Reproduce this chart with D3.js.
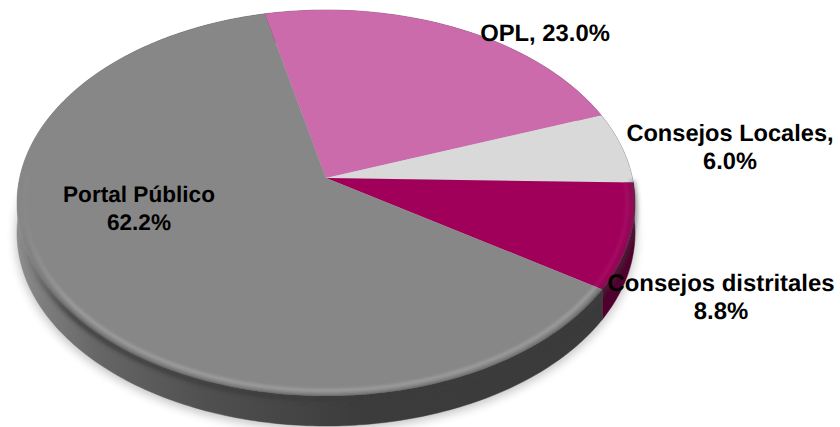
<!DOCTYPE html>
<html>
<head>
<meta charset="utf-8">
<script src="https://cdn.jsdelivr.net/npm/d3@7"></script>
<style>
html, body { margin: 0; padding: 0; background: #fff; }
svg { display: block; }
text { font-family: "Liberation Sans", Arial, sans-serif; font-weight: bold; fill: #000; text-rendering: geometricPrecision; }
</style>
</head>
<body>
<div id="chart"></div>
<script>
// datos, en el orden de la tarta (sentido horario)
var categories = ['OPL', 'Consejos Locales', 'Consejos distritales', 'Portal Público'];
var values = [23.0, 6.0, 8.8, 62.2];
var labelLines = [['OPL, 23.0%'], ['Consejos Locales,', '6.0%'], ['Consejos distritales', '8.8%'], ['Portal Público', '62.2%']];

var faceColors = ['#cb6bac', '#d9d9d9', '#a0005a', '#878787'];
var sideColors = ['#7a4067', '#6e6e6e', '#50002d', 'url(#graySide)'];
var labelAnchors = [[545, 41], [730, 141], [721, 291], [139, 202]];
var labelSizes = [23.8, 23.6, 23.9, 22.6];

var width = 840, height = 427;
var cx = 326, cy = 203, rx = 309, ry = 193;
var apexShift = -0.13; // el vertice queda por encima del centro de la elipse
var startDeg = -13;
var depth = 30;
var lineGap = 28;

var svg = d3.select('#chart').append('svg')
	.attr('width', width)
	.attr('height', height);

var defs = svg.append('defs');
[['blur5', 5], ['blur2', 2], ['blur1', 1.5]].forEach(function (f) {
	defs.append('filter')
		.attr('id', f[0])
		.attr('filterUnits', 'userSpaceOnUse')
		.attr('x', -20).attr('y', -20)
		.attr('width', width + 40).attr('height', height + 60)
		.append('feGaussianBlur')
		.attr('stdDeviation', f[1]);
});
var grad = defs.append('linearGradient')
	.attr('id', 'graySide')
	.attr('gradientUnits', 'userSpaceOnUse')
	.attr('x1', 17).attr('x2', 640).attr('y1', 0).attr('y2', 0);
[[0, '#8e8e8e'], [0.04, '#7e7e7e'], [0.13, '#666666'], [0.3, '#505050'], [0.55, '#3c3c3c'], [1, '#3a3a3a']].forEach(function (s) {
	grad.append('stop').attr('offset', s[0]).attr('stop-color', s[1]);
});
// el bisel se desvanece hacia la izquierda
function fadeGradient(id, color) {
	var g = defs.append('linearGradient')
		.attr('id', id)
		.attr('gradientUnits', 'userSpaceOnUse')
		.attr('x1', 20).attr('x2', 70).attr('y1', 0).attr('y2', 0);
	g.append('stop').attr('offset', 0).attr('stop-color', color).attr('stop-opacity', 0);
	g.append('stop').attr('offset', 1).attr('stop-color', color).attr('stop-opacity', 1);
}
fadeGradient('rimDark', '#3c3c3c');
fadeGradient('rimLight', '#ffffff');

// angulo de la tarta -> punto de la elipse en perspectiva
function project(angle, scale, dy) {
	var u = Math.sin(angle), v = -Math.cos(angle);
	var k = apexShift;
	var w = 1 + k * v;
	var s = scale === undefined ? 1 : scale;
	return [
		cx + rx * s * u * Math.sqrt(1 - k * k) / w,
		cy + ry * (k + (v + k) / w * s - k * s) + (dy || 0)
	];
}

var pie = d3.pie()
	.sort(null)
	.startAngle(startDeg * Math.PI / 180)
	.endAngle((360 + startDeg) * Math.PI / 180);
var slices = pie(values);

function arcPoints(a0, a1, scale, dy) {
	var n = Math.max(2, Math.ceil((a1 - a0) * 60));
	return d3.range(n + 1).map(function (i) {
		return project(a0 + (a1 - a0) * i / n, scale, dy);
	});
}
var line = d3.line();
var apex = [cx, cy + ry * apexShift];

// sombra
svg.append('path')
	.attr('d', line(arcPoints(0, 2 * Math.PI, 1.005, depth + 3)) + 'Z')
	.attr('fill', '#000')
	.attr('opacity', 0.22)
	.attr('filter', 'url(#blur5)');

// canto
svg.append('g').selectAll('path')
	.data(slices)
	.enter()
	.append('path')
	.attr('d', function (d) {
		var top = arcPoints(d.startAngle, d.endAngle, 1, 0);
		var bottom = arcPoints(d.startAngle, d.endAngle, 1, depth).reverse();
		return line(top.concat(bottom)) + 'Z';
	})
	.attr('fill', function (d, i) { return sideColors[i]; })
	.attr('stroke', function (d, i) { return sideColors[i]; })
	.attr('stroke-width', 0.5);

// cara superior
svg.append('g').selectAll('path')
	.data(slices)
	.enter()
	.append('path')
	.attr('d', function (d) {
		return line([apex].concat(arcPoints(d.startAngle, d.endAngle))) + 'Z';
	})
	.attr('fill', function (d, i) { return faceColors[i]; });

// bisel del borde inferior
var lowerFrom = Math.PI * 0.5, lowerTo = Math.PI * 1.5;
var rim = svg.append('g');
slices.forEach(function (d, i) {
	var a0 = Math.max(d.startAngle, lowerFrom), a1 = Math.min(d.endAngle, lowerTo);
	if (a1 <= a0) return;
	rim.append('path')
		.attr('d', line(arcPoints(a0, a1, 1, 3)))
		.attr('fill', 'none')
		.attr('stroke', 'url(#rimDark)')
		.attr('stroke-opacity', i == 3 ? 0.9 : 0.5)
		.attr('stroke-width', 5)
		.attr('filter', 'url(#blur2)');
	rim.append('path')
		.attr('d', line(arcPoints(a0, a1, 0.975)))
		.attr('fill', 'none')
		.attr('stroke', 'url(#rimLight)')
		.attr('stroke-opacity', i == 3 ? 0.2 : 0.06)
		.attr('stroke-width', 3)
		.attr('filter', 'url(#blur1)');
});

// etiquetas
var labels = svg.append('g').selectAll('text')
	.data(categories)
	.enter()
	.append('text')
	.attr('text-anchor', 'middle')
	.attr('font-size', function (d, i) { return labelSizes[i]; })
	.attr('x', function (d, i) { return labelAnchors[i][0]; })
	.attr('y', function (d, i) { return labelAnchors[i][1]; });
labels.selectAll('tspan')
	.data(function (d, i) {
		return labelLines[i].map(function (t) { return { text: t, x: labelAnchors[i][0] }; });
	})
	.enter()
	.append('tspan')
	.attr('x', function (d) { return d.x; })
	.attr('dy', function (d, i) { return i == 0 ? 0 : lineGap; })
	.text(function (d) { return d.text; });
</script>
</body>
</html>
